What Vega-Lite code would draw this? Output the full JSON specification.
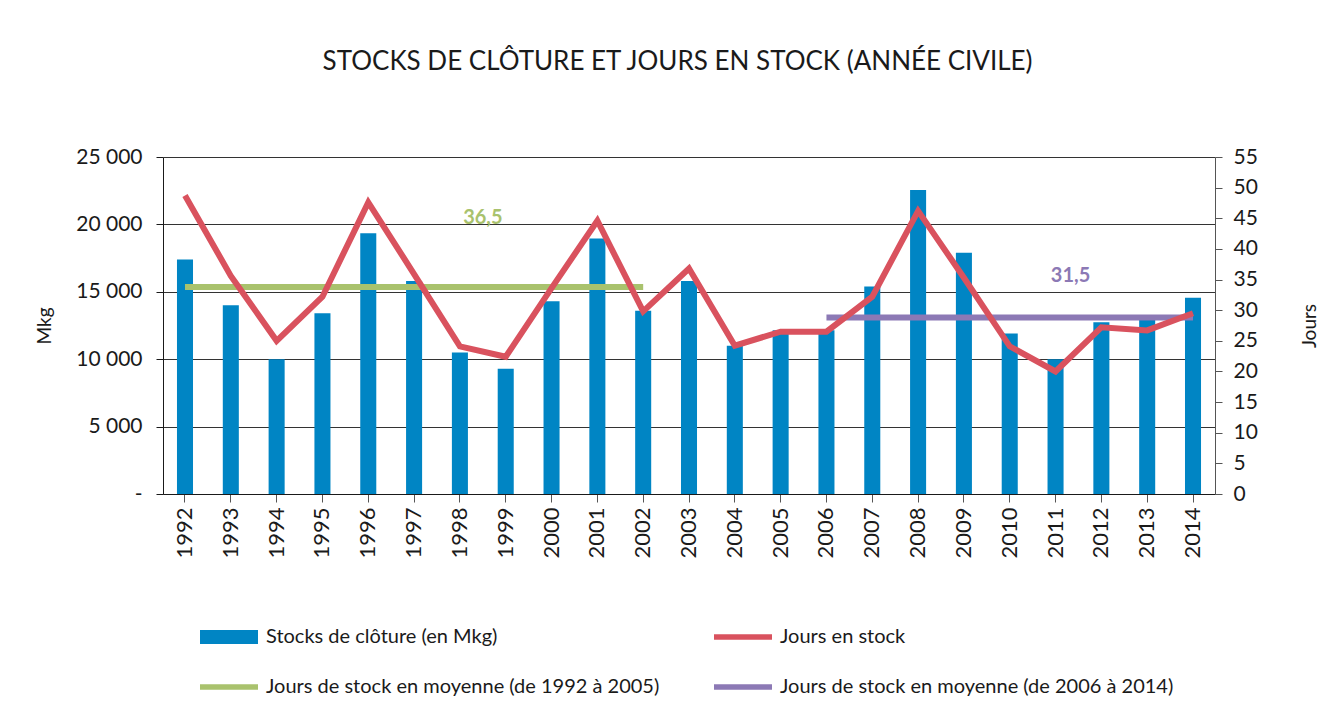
{
  "$schema": "https://vega.github.io/schema/vega-lite/v6.json",
  "width": 1052,
  "height": 337,
  "autosize": {"type": "none"},
  "padding": {"left": 163, "top": 157, "right": 120, "bottom": 229},
  "background": "white",
  "config": {
    "view": {"stroke": null},
    "font": "Lato",
    "axis": {"labelFont": "Lato", "titleFont": "Lato", "labelColor": "#1a1a1a", "titleColor": "#1a1a1a", "titleFontWeight": "normal"}
  },
  "title": {
    "text": "STOCKS DE CLÔTURE ET JOURS EN STOCK (ANNÉE CIVILE)",
    "font": "Lato",
    "fontSize": 26,
    "fontWeight": "normal",
    "color": "#1a1a1a",
    "anchor": "middle",
    "frame": "bounds",
    "offset": 71
  },
  "datasets": {
    "stocks": [
      {"annee": "1992", "stock": 17400},
      {"annee": "1993", "stock": 14000},
      {"annee": "1994", "stock": 10000},
      {"annee": "1995", "stock": 13400},
      {"annee": "1996", "stock": 19350},
      {"annee": "1997", "stock": 15800},
      {"annee": "1998", "stock": 10500},
      {"annee": "1999", "stock": 9300},
      {"annee": "2000", "stock": 14300},
      {"annee": "2001", "stock": 18950},
      {"annee": "2002", "stock": 13600},
      {"annee": "2003", "stock": 15800},
      {"annee": "2004", "stock": 11000},
      {"annee": "2005", "stock": 12150},
      {"annee": "2006", "stock": 12150},
      {"annee": "2007", "stock": 15400},
      {"annee": "2008", "stock": 22550},
      {"annee": "2009", "stock": 17900},
      {"annee": "2010", "stock": 11900},
      {"annee": "2011", "stock": 10000},
      {"annee": "2012", "stock": 12750},
      {"annee": "2013", "stock": 13050},
      {"annee": "2014", "stock": 14550}
    ],
    "jours": [
      {"annee": "1992", "serie": "Jours en stock", "valeur": 48.7},
      {"annee": "1993", "serie": "Jours en stock", "valeur": 35.6},
      {"annee": "1994", "serie": "Jours en stock", "valeur": 25.0},
      {"annee": "1995", "serie": "Jours en stock", "valeur": 32.2},
      {"annee": "1996", "serie": "Jours en stock", "valeur": 47.6},
      {"annee": "1997", "serie": "Jours en stock", "valeur": 35.9},
      {"annee": "1998", "serie": "Jours en stock", "valeur": 24.1},
      {"annee": "1999", "serie": "Jours en stock", "valeur": 22.4},
      {"annee": "2000", "serie": "Jours en stock", "valeur": 33.6},
      {"annee": "2001", "serie": "Jours en stock", "valeur": 44.6},
      {"annee": "2002", "serie": "Jours en stock", "valeur": 29.8},
      {"annee": "2003", "serie": "Jours en stock", "valeur": 36.8},
      {"annee": "2004", "serie": "Jours en stock", "valeur": 24.2},
      {"annee": "2005", "serie": "Jours en stock", "valeur": 26.5},
      {"annee": "2006", "serie": "Jours en stock", "valeur": 26.5},
      {"annee": "2007", "serie": "Jours en stock", "valeur": 32.2},
      {"annee": "2008", "serie": "Jours en stock", "valeur": 46.2},
      {"annee": "2009", "serie": "Jours en stock", "valeur": 35.3},
      {"annee": "2010", "serie": "Jours en stock", "valeur": 24.1},
      {"annee": "2011", "serie": "Jours en stock", "valeur": 20.0},
      {"annee": "2012", "serie": "Jours en stock", "valeur": 27.2},
      {"annee": "2013", "serie": "Jours en stock", "valeur": 26.7},
      {"annee": "2014", "serie": "Jours en stock", "valeur": 29.5}
    ],
    "moyennes": [
      {"annee": "1992", "serie": "Jours de stock en moyenne (de 1992 à 2005)", "valeur": 33.8},
      {"annee": "2002", "serie": "Jours de stock en moyenne (de 1992 à 2005)", "valeur": 33.8},
      {"annee": "2006", "serie": "Jours de stock en moyenne (de 2006 à 2014)", "valeur": 28.8},
      {"annee": "2014", "serie": "Jours de stock en moyenne (de 2006 à 2014)", "valeur": 28.8}
    ]
  },
  "layer": [
    {
      "data": {"name": "stocks"},
      "mark": {"type": "bar", "color": "#0085c4"},
      "encoding": {
        "x": {
          "field": "annee",
          "type": "ordinal",
          "scale": {"paddingInner": 0.65, "paddingOuter": 0.305},
          "axis": {
            "title": null,
            "labelAngle": -90,
            "labelFontSize": 22,
            "labelPadding": 5,
            "tickSize": 8,
            "tickColor": "#555555",
            "domainColor": "#1a1a1a"
          }
        },
        "y": {
          "field": "stock",
          "type": "quantitative",
          "scale": {"domain": [0, 25000], "nice": false},
          "axis": {
            "title": "Mkg",
            "titleFontSize": 19,
            "titlePadding": 21,
            "values": [0, 5000, 10000, 15000, 20000, 25000],
            "labelExpr": "datum.value == 0 ? '-' : replace(format(datum.value, ','), ',', ' ')",
            "labelFontSize": 21,
            "labelPadding": 14,
            "labelOverlap": false,
            "tickSize": 7,
            "tickColor": "#1a1a1a",
            "domainColor": "#1a1a1a",
            "grid": true,
            "gridColor": "#333333",
            "gridWidth": 1,
            "gridOpacity": 1
          }
        },
        "color": {
          "datum": "Stocks de clôture (en Mkg)",
          "type": "nominal",
          "title": null,
          "scale": {
            "domain": ["Stocks de clôture (en Mkg)", "Jours en stock", "Jours de stock en moyenne (de 1992 à 2005)", "Jours de stock en moyenne (de 2006 à 2014)"],
            "range": ["#0085c4", "#d9525e", "#a9c26d", "#8c79b5"]
          },
          "legend": {
            "orient": "none",
            "legendX": 56,
            "legendY": 470,
            "title": null,
            "direction": "horizontal",
            "columns": 2,
            "padding": 0,
            "symbolSize": 400,
            "symbolType": "M-2.9,-0.7H2.9V0.7H-2.9Z",
            "labelFont": "Lato",
            "labelFontSize": 20,
            "labelColor": "#1a1a1a",
            "labelOffset": 27,
            "labelLimit": 600,
            "columnPadding": 54,
            "rowPadding": 30,
            "encode": {
              "symbols": {
                "update": {
                  "shape": {"signal": "datum.value === 'Stocks de clôture (en Mkg)' ? 'M-2.9,-0.7H2.9V0.7H-2.9Z' : 'M-2.9,-0.27H2.9V0.27H-2.9Z'"},
                  "fill": {"scale": "color", "field": "value"},
                  "strokeWidth": {"value": 0},
                  "opacity": {"value": 1}
                }
              }
            }
          }
        }
      }
    },
    {
      "encoding": {
        "y": {
          "field": "valeur",
          "type": "quantitative",
          "scale": {"domain": [0, 55], "nice": false},
          "axis": {
            "orient": "right",
            "title": "Jours",
            "titleAngle": 270,
            "titleFontSize": 19,
            "titlePadding": 62,
            "values": [0, 5, 10, 15, 20, 25, 30, 35, 40, 45, 50, 55],
            "labelFontSize": 21,
            "labelPadding": 11,
            "labelOverlap": false,
            "tickSize": 7,
            "tickColor": "#555555",
            "domainColor": "#555555",
            "grid": false
          }
        },
        "x": {"field": "annee", "type": "ordinal"}
      },
      "layer": [
        {
          "data": {"name": "moyennes"},
          "mark": {"type": "line", "strokeWidth": 6, "strokeCap": "butt"},
          "encoding": {
            "color": {"field": "serie", "type": "nominal", "title": null}
          }
        },
        {
          "data": {"name": "jours"},
          "mark": {"type": "line", "strokeWidth": 6, "strokeJoin": "miter"},
          "encoding": {
            "color": {"field": "serie", "type": "nominal", "title": null}
          }
        },
        {
          "data": {"values": [{"annee": "1998", "valeur": 45, "texte": "36,5"}]},
          "mark": {"type": "text", "dx": 23, "color": "#a9c26d", "fontSize": 20, "fontWeight": "bold", "font": "Lato"},
          "encoding": {
            "text": {"field": "texte"}
          }
        },
        {
          "data": {"values": [{"annee": "2011", "valeur": 35.6, "texte": "31,5"}]},
          "mark": {"type": "text", "dx": 15, "color": "#8c79b5", "fontSize": 20, "fontWeight": "bold", "font": "Lato"},
          "encoding": {
            "text": {"field": "texte"}
          }
        }
      ]
    }
  ],
  "resolve": {"scale": {"y": "independent"}}
}
